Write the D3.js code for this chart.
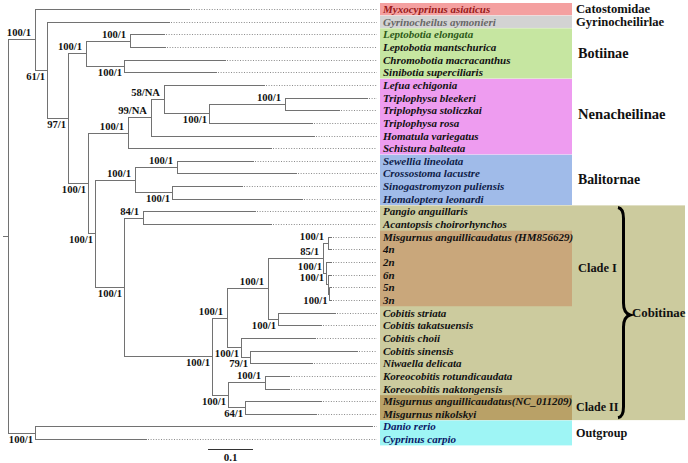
<!DOCTYPE html>
<html><head><meta charset="utf-8">
<script src="https://cdn.jsdelivr.net/npm/d3@7"></script>
<style>
html,body{margin:0;padding:0;background:#fff;}
svg{display:block;}
text{font-family:"Liberation Serif","Times New Roman",serif;font-weight:bold;}
</style></head>
<body>
<svg id="chart" width="688" height="463"></svg>
<script>
// ---------------- DATA ----------------
const taxa = [
  "Myxocyprinus asiaticus","Gyrinocheilus aymonieri","Leptobotia elongata","Leptobotia mantschurica",
  "Chromobotia macracanthus","Sinibotia superciliaris","Lefua echigonia","Triplophysa bleekeri",
  "Triplophysa stoliczkai","Triplophysa rosa","Homatula variegatus","Schistura balteata",
  "Sewellia lineolata","Crossostoma lacustre","Sinogastromyzon puliensis","Homaloptera leonardi",
  "Pangio anguillaris","Acantopsis choirorhynchos","Misgurnus anguillicaudatus (HM856629)","4n",
  "2n","6n","5n","3n","Cobitis striata","Cobitis takatsuensis","Cobitis choii","Cobitis sinensis",
  "Niwaella delicata","Koreocobitis rotundicaudata","Koreocobitis naktongensis",
  "Misgurnus anguillicaudatus(NC_011209)","Misgurnus nikolskyi","Danio rerio","Cyprinus carpio"
];
// topology with branch lengths (substitutions/site); leaves are t<index into taxa>
const newick =
 "((t0:0.3444,(t1:0.2733,(((t2:0.0778,t3:0.08)E:0.0978,(t4:0.2267,t5:0.2067)F:0.0844)D:0.04," +
 "((((t6:0.2244,((t7:0.1844,t8:0.1222)G:0.1689,t9:0.2311)K:0.1)J:0.0289,t10:0.3644)I:0.0511,t11:0.32)H:0.0889," +
 "(((t12:0.1711,t13:0.2667)P:0.0933,(t14:0.1578,t15:0.2911)Q:0.0822)O:0.0889," +
 "((t16:0.2511,t17:0.2867)S:0.0422," +
 "(((((t18:0.0089,t19:0.0089)W1:0.0111,(t20:0.0133,(t21:0.0089,(t22:0.0056,t23:0.0056)W4:0.0033)W3:0.0044)W2:0.0067)W:0.1222," +
 "(t24:0.1289,t25:0.0978)X:0.0222)V:0.0911,(t26:0.1667,(t27:0.24,t28:0.14)Z:0.02)Y:0.0311)U:0.0333," +
 "((t29:0.0556,t30:0.0556)AB:0.0822,(t31:0.1711,t32:0.16)AC:0.0378)AA:0.0356)T:0.1956)R:0.0644)N:0.0156)M:0.0444)C:0.0467)B:0.0267)A:0.06," +
 "(t33:0.7511,t34:0.2489)OG:0.06)root;";

const supportNodes = ["A","B","C","D","E","F","M","H","I","J","K","G","N","O","P","Q","R","S","T","U","V","W","W1","W2","W3","W4","X","Y","Z","AA","AB","AC","OG"];
const supportValues = ["100/1","61/1","97/1","100/1","100/1","100/1","100/1","100/1","99/NA","58/NA","100/1","100/1","100/1","100/1","100/1","100/1","100/1","84/1","100/1","100/1","100/1","85/1","100/1","100/1","100/1","100/1","100/1","100/1","79/1","100/1","100/1","64/1","100/1"];
const supportBelow = ["B","C","F","M","K","N","Q","R","T","W4","X","Y","Z","AA","AC","OG"];

const groupNames = ["Catostomidae","Gyrinocheilirlae","Botiinae","Nenacheilinae","Balitornae","Cobitinae","Clade I","Clade II","Outgroup"];
const groupFirst = [0,1,2,6,12,16,18,31,33];
const groupLast  = [0,1,5,11,15,32,23,32,34];
const groupColors = ["#f4a0a0","#d3d3d3","#c6e6a1","#ee9cf0","#a0bbe9","#cccb9e","#c9a77b","#b9a167","#9ef5f5"];
const groupFontSize = [12.6,12.6,14.2,14.6,13.8,12.8,12.4,12,12.2];

const scaleBarValue = 0.1;

// ---------------- PARSE ----------------
function parseNewick(s){
  let i = 0;
  function node(){
    const n = {children: []};
    if (s[i] === '('){
      i++;
      n.children.push(node());
      while (s[i] === ','){ i++; n.children.push(node()); }
      i++;
    }
    let name = '';
    while (i < s.length && !',():;'.includes(s[i])) name += s[i++];
    n.name = name;
    n.length = 0;
    if (s[i] === ':'){
      i++; let len = '';
      while (i < s.length && !',();'.includes(s[i])) len += s[i++];
      n.length = +len;
    }
    return n;
  }
  return node();
}

const root = d3.hierarchy(parseNewick(newick), d => d.children.length ? d.children : null);
root.eachBefore(d => { d.dist = (d.parent ? d.parent.dist : 0) + d.data.length; });

const x = d3.scaleLinear().domain([0, 1]).range([8, 458]);
const y = d3.scaleLinear().domain([0, taxa.length - 1]).range([9, 439.1]);

root.eachAfter(d => {
  d.px = x(d.dist);
  if (!d.children) { d.idx = +d.data.name.slice(1); d.py = y(d.idx); }
  else d.py = (d.children[0].py + d.children[d.children.length - 1].py) / 2;
});

const svg = d3.select("#chart");
svg.append("rect").attr("width", 688).attr("height", 463).attr("fill", "#fff");

// ---------------- GROUP BOXES ----------------
const boxLeft = 380, boxRight = 572, wideRight = 685;
const gBox = svg.append("g");
groupNames.forEach((name, i) => {
  const right = name === "Cobitinae" ? wideRight : boxRight;
  gBox.append("rect")
    .attr("x", boxLeft)
    .attr("y", y(groupFirst[i]) - 6)
    .attr("width", right - boxLeft)
    .attr("height", y(groupLast[i]) - y(groupFirst[i]) + 12.3)
    .attr("fill", groupColors[i]);
});

// ---------------- TREE ----------------
const lineColor = "#727272";
const gTree = svg.append("g").attr("fill", "none").attr("stroke", lineColor).attr("stroke-width", 1);
const nodes = root.descendants();
const snap = v => Math.round(v) + 0.5;

// root stub
gTree.append("line").attr("x1", 3).attr("x2", root.px).attr("y1", snap(root.py)).attr("y2", snap(root.py));

nodes.filter(d => d.parent).forEach(d => {
  gTree.append("line")
    .attr("x1", d.parent.px).attr("x2", d.px)
    .attr("y1", snap(d.py)).attr("y2", snap(d.py));
});
nodes.filter(d => d.children).forEach(d => {
  gTree.append("line")
    .attr("x1", snap(d.px)).attr("x2", snap(d.px))
    .attr("y1", snap(d.children[0].py)).attr("y2", snap(d.children[d.children.length - 1].py) + 0.5);
});
// dotted leaf extensions
nodes.filter(d => !d.children).forEach(d => {
  gTree.append("line")
    .attr("x1", d.px + 1).attr("x2", 377)
    .attr("y1", snap(d.py)).attr("y2", snap(d.py))
    .attr("stroke", "#8a8a8a").attr("stroke-dasharray", "1,1.6");
});

// support labels
const byName = new Map(nodes.filter(d => d.children).map(d => [d.data.name, d]));
const gSup = svg.append("g").attr("font-size", 10.6).attr("fill", "#111").attr("text-anchor", "end");
supportNodes.forEach((nm, i) => {
  const d = byName.get(nm);
  const below = supportBelow.includes(nm);
  gSup.append("text")
    .attr("x", below ? d.px - 2 : d.px - 4)
    .attr("y", below ? d.py + 10 : d.py - 3)
    .text(supportValues[i]);
});

// ---------------- LEAF LABELS ----------------
const textColor = i => i === 0 ? "#9a1a1a" : i === 1 ? "#676767" : i === 2 ? "#2c5a18" :
                       (i >= 12 && i <= 15) ? "#0e1c48" : (i >= 33) ? "#0a1866" : "#111";
svg.append("g").attr("font-size", 11).attr("font-style", "italic")
  .selectAll("text").data(taxa).join("text")
  .attr("x", 383).attr("y", (d, i) => y(i) + 4)
  .attr("fill", (d, i) => textColor(i))
  .text(d => d);

// ---------------- GROUP LABELS ----------------
const gLab = svg.append("g").attr("fill", "#111");
groupNames.forEach((name, i) => {
  let cy = (y(groupFirst[i]) + y(groupLast[i])) / 2;
  if (name === "Nenacheilinae") cy -= 2.5;
  gLab.append("text")
    .attr("font-size", groupFontSize[i])
    .attr("x", name === "Cobitinae" ? 632 : (name === "Clade I" || name.startsWith("Bot") || name.startsWith("Nen") || name.startsWith("Bal")) ? 578 : 576)
    .attr("y", cy + groupFontSize[i] * 0.33)
    .text(name);
});

// brace for Cobitinae
const braceTop = y(groupFirst[5]) - 4, braceBot = y(groupLast[5]) + 4, braceMid = 315;
svg.append("path")
  .attr("d", `M618,${braceTop} Q623.5,${braceTop+1} 623.5,${braceTop+11} L623.5,${braceMid-12} Q623.5,${braceMid-2} 630,${braceMid} Q623.5,${braceMid+2} 623.5,${braceMid+12} L623.5,${braceBot-11} Q623.5,${braceBot-1} 618,${braceBot}`)
  .attr("fill", "none").attr("stroke", "#000").attr("stroke-width", 3);

// ---------------- SCALE BAR ----------------
const sbX = 208, sbY = 449.5;
svg.append("line").attr("x1", sbX).attr("x2", sbX + x(scaleBarValue) - x(0))
  .attr("y1", sbY).attr("y2", sbY).attr("stroke", "#333").attr("stroke-width", 1);
svg.append("text").attr("x", sbX + (x(scaleBarValue) - x(0)) / 2).attr("y", 461)
  .attr("text-anchor", "middle").attr("font-size", 11).attr("fill", "#111").text(scaleBarValue);
</script>
</body></html>
